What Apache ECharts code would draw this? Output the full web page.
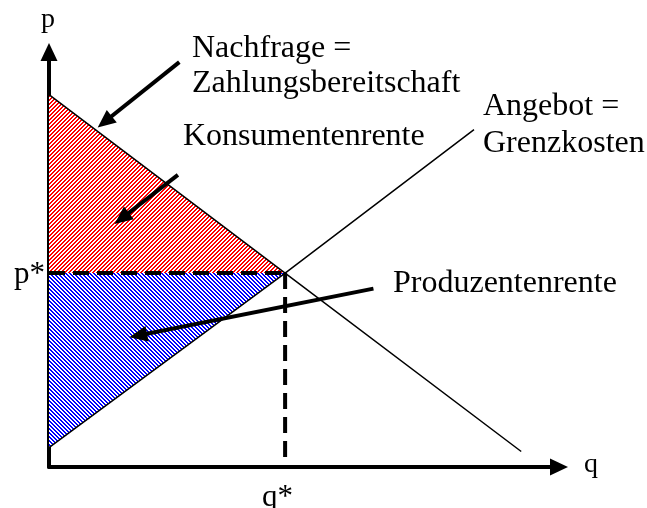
<!DOCTYPE html>
<html>
<head>
<meta charset="utf-8">
<script src="https://cdn.jsdelivr.net/npm/echarts@6/dist/echarts.min.js"></script>
<style>
  html, body { margin: 0; padding: 0; background: #fff; }
  #chart { width: 647px; height: 508px; }
</style>
</head>
<body>
<div id="chart"></div>
<script>
// Nachfrage- und Angebotskurve (q, p)
const demandQ = [0, 5, 10]
const demandP = [9.6, 5.0, 0.4]
const supplyQ = [0, 5, 9]
const supplyP = [0.5, 5.0, 8.7]

// Gleichgewicht
const qStar = 5
const pStar = 5.0

// Achsenbereich
const qMax = 10.8
const pMax = 10.7

const serif = '"Times New Roman", "Liberation Serif", serif'

// Schraffur als Canvas-Muster (pixelgenau, ohne Kantenglättung)
function hatch(rgb, dir) {
  const s = 4
  const c = document.createElement('canvas')
  c.width = s
  c.height = s
  const ctx = c.getContext('2d')
  const img = ctx.createImageData(s, s)
  for (let y = 0; y < s; y++) {
    for (let x = 0; x < s; x++) {
      const k = dir === '/' ? (x + y) % s : (x - y + s) % s
      const on = k < 2
      const i = (y * s + x) * 4
      img.data[i] = on ? rgb[0] : 255
      img.data[i + 1] = on ? rgb[1] : 255
      img.data[i + 2] = on ? rgb[2] : 255
      img.data[i + 3] = 255
    }
  }
  ctx.putImageData(img, 0, 0)
  return { image: c, repeat: 'repeat' }
}

const pairs = (xs, ys) => xs.map((x, i) => [x, ys[i]])

// Renten-Dreiecke
const consumerTri = [[0, demandP[0]], [0, pStar], [qStar, pStar]]
const producerTri = [[0, pStar], [0, supplyP[0]], [qStar, pStar]]

function triangleSeries(points, fill) {
  return {
    type: 'custom',
    silent: true,
    z: 1,
    data: [points[0]],
    renderItem: (params, api) => ({
      type: 'polygon',
      shape: { points: points.map(p => api.coord(p)) },
      style: { fill: fill }
    })
  }
}

const axisBase = {
  type: 'value',
  axisLine: {
    show: true,
    onZero: false,
    symbol: ['none', 'triangle'],
    symbolSize: [17, 18],
    lineStyle: { color: '#000', width: 4 }
  },
  axisTick: { show: false },
  axisLabel: { show: false },
  splitLine: { show: false }
}

const dashStyle = { color: '#000', width: 4, type: [16, 8] }

const chart = echarts.init(document.getElementById('chart'))

const option = {
  animation: false,
  backgroundColor: '#fff',
  grid: { left: 49, right: 88, top: 52, bottom: 41 },
  xAxis: Object.assign({}, axisBase, { min: 0, max: qMax }),
  yAxis: Object.assign({}, axisBase, { min: 0, max: pMax }),
  series: [
    triangleSeries(consumerTri, hatch([255, 0, 0], '/')),
    triangleSeries(producerTri, hatch([0, 0, 255], '\\')),
    {
      name: 'Nachfrage',
      type: 'line',
      z: 3,
      symbol: 'none',
      data: pairs(demandQ, demandP),
      lineStyle: { color: '#000', width: 1.5 }
    },
    {
      name: 'Angebot',
      type: 'line',
      z: 3,
      symbol: 'none',
      data: pairs(supplyQ, supplyP),
      lineStyle: { color: '#000', width: 1.5 },
      // Hinweispfeile
      markLine: {
        silent: true,
        symbol: ['none', 'triangle'],
        symbolSize: [16, 18],
        label: { show: false },
        lineStyle: { color: '#000', width: 4, type: 'solid' },
        data: [
          [{ coord: [2.76, 10.44] }, { coord: [1.18, 8.9] }],
          [{ coord: [2.73, 7.53] }, { coord: [1.54, 6.41] }],
          [{ coord: [6.87, 4.6] }, { coord: [1.89, 3.39] }]
        ]
      }
    },
    {
      type: 'line',
      z: 4,
      symbol: 'none',
      data: [[0, pStar], [qStar, pStar]],
      lineStyle: dashStyle
    },
    {
      type: 'line',
      z: 4,
      symbol: 'none',
      data: [[qStar, pStar], [qStar, 0]],
      lineStyle: dashStyle
    }
  ],
  graphic: {
    elements: [
      { type: 'text', left: 41, top: 6, style: { text: 'p', font: '28px ' + serif, fill: '#000' } },
      { type: 'text', left: 584, top: 451, style: { text: 'q', font: '28px ' + serif, fill: '#000' } },
      { type: 'text', left: 14, top: 259, style: { text: 'p*', font: '31px ' + serif, fill: '#000' } },
      { type: 'text', left: 262, top: 482, style: { text: 'q*', font: '31px ' + serif, fill: '#000' } },
      {
        type: 'text', left: 192, top: 31,
        style: { text: 'Nachfrage =\nZahlungsbereitschaft', font: '32px ' + serif, lineHeight: 35, fill: '#000' }
      },
      { type: 'text', left: 183, top: 121, style: { text: 'Konsumentenrente', font: '32px ' + serif, fill: '#000' } },
      {
        type: 'text', left: 483, top: 88,
        style: { text: 'Angebot =\nGrenzkosten', font: '32px ' + serif, lineHeight: 37, fill: '#000' }
      },
      { type: 'text', left: 393, top: 268, style: { text: 'Produzentenrente', font: '32px ' + serif, fill: '#000' } }
    ]
  }
}

chart.setOption(option)
</script>
</body>
</html>
